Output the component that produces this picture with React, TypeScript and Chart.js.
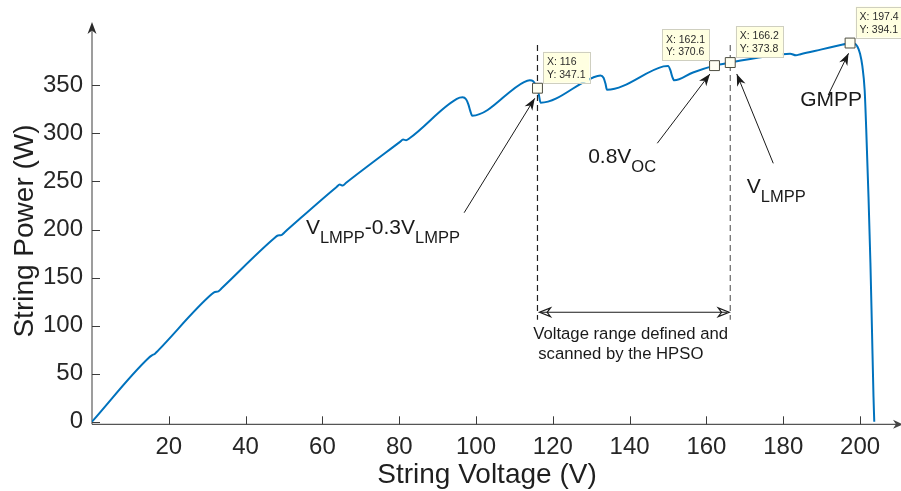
import React, { useEffect, useRef } from 'react';
import { Chart, registerables } from 'chart.js';

Chart.register(...registerables);

// P–V characteristic of the partially shaded string
const voltage = [
  0, 14.8, 15.6, 16.4, 17.2, 31.2, 32.0, 32.9, 33.7, 47.6, 48.4, 49.3, 50.1,
  63.7, 64.5, 65.3, 66.1, 80.2, 81.0, 81.8, 82.6, 95.0, 96.5, 97.4, 98.0, 98.5,
  99.0, 112.5, 114.0, 114.9, 115.5, 116.0, 116.4, 116.8, 130.5, 132.4, 133.2,
  133.7, 134.1, 148.8, 150.0, 150.6, 151.1, 151.6, 156.5, 162.1, 166.2, 175.5,
  181.8, 183.3, 184.5, 190.0, 195.5, 197.4, 198.5, 199.3, 200.0, 200.6, 201.2,
  201.6, 202.2, 202.7, 203.1, 203.5, 203.7,
];
const power = [
  0, 66.6, 69.0, 70.8, 74.0, 132.8, 135.0, 135.6, 138.6, 191.4, 193.8, 194.2, 197.0,
  244.3, 246.8, 245.8, 248.4, 291.2, 293.6, 293.0, 294.8, 336.0, 337.6, 335.6, 330.3, 323.5,
  318.5, 353.5, 355.3, 354.3, 350.5, 347.1, 339.5, 332.0, 358.3, 360.2, 358.0,
  352.0, 345.5, 369.8, 370.2, 366.0, 359.0, 355.3, 363.5, 370.6, 373.8, 380.0,
  383.0, 381.3, 382.5, 387.5, 392.5, 394.1, 393.6, 390.5, 383.0, 370.0, 345.0,
  305.0, 234.0, 165.0, 96.0, 26.0, 0,
];

// data-tip readouts
const tipVoltage = [116, 162.1, 166.2, 197.4];
const tipPower = [347.1, 370.6, 373.8, 394.1];
const tipSide = ['right', 'left', 'right', 'right'];

// voltage window searched by the HPSO
const rangeStart = 116;
const rangeEnd = 166.2;

const xTicks = [20, 40, 60, 80, 100, 120, 140, 160, 180, 200];
const yTicks = [0, 50, 100, 150, 200, 250, 300, 350];

const FONT = '"Liberation Sans", Arial, Helvetica, sans-serif';

// callouts: text pieces (sub = subscript), text anchor and arrow, in data units
const callouts = [
  { parts: [['V', false], ['LMPP', true], ['-0.3V', false], ['LMPP', true]], at: [55.7, 195.2], tail: [96.9, 217.5], head: [115.3, 336.6] },
  { parts: [['0.8V', false], ['OC', true]], at: [129.2, 269], tail: [147.2, 289.8], head: [160.9, 361.9] },
  { parts: [['V', false], ['LMPP', true]], at: [170.5, 237.7], tail: [177.4, 268.9], head: [167.9, 361.9] },
  { parts: [['GMPP', false]], at: [184.4, 328.6], tail: [191.7, 340], head: [197.0, 383.4] },
];

function concaveHead(ctx: CanvasRenderingContext2D, x1: number, y1: number, x2: number, y2: number, len: number, half: number, fill: boolean) {
  const a = Math.atan2(y2 - y1, x2 - x1);
  ctx.save();
  ctx.translate(x2, y2);
  ctx.rotate(a);
  ctx.beginPath();
  ctx.moveTo(0, 0);
  ctx.lineTo(-len, -half);
  ctx.lineTo(-len * 0.7, 0);
  ctx.lineTo(-len, half);
  ctx.closePath();
  if (fill) ctx.fill();
  else ctx.stroke();
  ctx.restore();
}

function line(ctx: CanvasRenderingContext2D, x1: number, y1: number, x2: number, y2: number) {
  ctx.beginPath();
  ctx.moveTo(x1, y1);
  ctx.lineTo(x2, y2);
  ctx.stroke();
}

const decorations = {
  id: 'decorations',
  beforeDatasetsDraw(chart: any) {
    const { ctx, chartArea, scales } = chart;
    const { left, right, top, bottom } = chartArea;
    const x = scales.x;
    const y = scales.y;
    ctx.save();

    // y axis with arrow
    ctx.strokeStyle = '#7c7c7c';
    ctx.fillStyle = '#2a2a2a';
    ctx.lineWidth = 1.5;
    line(ctx, left, bottom, left, top + 6);
    concaveHead(ctx, left, bottom, left, top, 12, 4.5, true);
    ctx.strokeStyle = '#3c3c3c';
    ctx.lineWidth = 1;
    yTicks.forEach((v) => {
      const p = Math.round(y.getPixelForValue(v)) + 0.5;
      line(ctx, left, p, left + 8, p);
    });

    // x axis with arrow
    ctx.strokeStyle = '#555555';
    ctx.lineWidth = 1.3;
    line(ctx, left, bottom, right - 2, bottom);
    ctx.fillStyle = '#444444';
    concaveHead(ctx, left, bottom, right + 3, bottom, 10, 4.5, true);
    ctx.strokeStyle = '#3c3c3c';
    ctx.lineWidth = 1;
    xTicks.forEach((v) => {
      const p = Math.round(x.getPixelForValue(v)) + 0.5;
      line(ctx, p, bottom, p, bottom - 8);
    });

    // window limits
    const yTop = y.getPixelForValue(392);
    const yBot = y.getPixelForValue(106);
    ctx.setLineDash([6, 4]);
    ctx.lineWidth = 1.2;
    ctx.strokeStyle = '#222222';
    const xs = x.getPixelForValue(rangeStart);
    const xe = x.getPixelForValue(rangeEnd);
    line(ctx, xs, yTop, xs, yBot);
    ctx.strokeStyle = '#666666';
    line(ctx, xe, yTop, xe, yBot);
    ctx.setLineDash([]);

    // double-headed arrow spanning the window
    const ya = y.getPixelForValue(113.9);
    ctx.strokeStyle = '#1a1a1a';
    ctx.lineWidth = 1.2;
    line(ctx, xs + 3, ya, xe - 3, ya);
    concaveHead(ctx, xe, ya, xs + 2, ya, 11, 4.3, false);
    concaveHead(ctx, xs, ya, xe - 1, ya, 11, 4.3, false);

    ctx.fillStyle = '#1a1a1a';
    ctx.font = `16.7px ${FONT}`;
    ctx.textBaseline = 'alphabetic';
    ctx.textAlign = 'left';
    ctx.fillText('Voltage range defined and', x.getPixelForValue(114.9), y.getPixelForValue(86.1));
    ctx.fillText('scanned by the HPSO', x.getPixelForValue(116.2), y.getPixelForValue(65.3));
    ctx.restore();
  },
  afterDatasetsDraw(chart: any) {
    const { ctx, scales } = chart;
    const x = scales.x;
    const y = scales.y;
    ctx.save();

    // data-tip boxes
    ctx.font = `10.5px ${FONT}`;
    ctx.textBaseline = 'alphabetic';
    ctx.textAlign = 'left';
    tipVoltage.forEach((v, i) => {
      const mx = x.getPixelForValue(v);
      const my = y.getPixelForValue(tipPower[i]);
      const l1 = `X: ${v}`;
      const l2 = `Y: ${tipPower[i]}`;
      const w = Math.max(ctx.measureText(l1).width, ctx.measureText(l2).width) + 8;
      const h = 31;
      const bx = tipSide[i] === 'right' ? mx + 5.5 : mx - 5.5 - w;
      const by = my - 5.5 - h;
      ctx.fillStyle = '#ffffe1';
      ctx.fillRect(bx, by, w, h);
      ctx.strokeStyle = '#cfcfc0';
      ctx.lineWidth = 1;
      ctx.strokeRect(Math.round(bx) + 0.5, Math.round(by) + 0.5, Math.round(w), h);
      ctx.fillStyle = '#2b2b2b';
      ctx.fillText(l1, bx + 4, by + 13.4);
      ctx.fillText(l2, bx + 4, by + 26);
    });

    // callouts
    ctx.strokeStyle = '#1a1a1a';
    ctx.fillStyle = '#1a1a1a';
    ctx.lineWidth = 1;
    callouts.forEach((c) => {
      const tx = x.getPixelForValue(c.tail[0]);
      const ty = y.getPixelForValue(c.tail[1]);
      const hx = x.getPixelForValue(c.head[0]);
      const hy = y.getPixelForValue(c.head[1]);
      line(ctx, tx, ty, hx, hy);
      concaveHead(ctx, tx, ty, hx, hy, 12, 4.5, true);

      let px = x.getPixelForValue(c.at[0]);
      const base = y.getPixelForValue(c.at[1]);
      c.parts.forEach(([t, sub]) => {
        ctx.font = sub ? `16.5px ${FONT}` : `21px ${FONT}`;
        ctx.fillText(t as string, px, sub ? base + 9 : base);
        px += ctx.measureText(t as string).width;
      });
    });
    ctx.restore();
  },
  afterDraw(chart: any) {
    const { ctx } = chart;
    ctx.save();
    ctx.fillStyle = '#1f1f1f';
    ctx.font = `28px ${FONT}`;
    ctx.textAlign = 'center';
    ctx.textBaseline = 'middle';
    ctx.fillText('String Voltage (V)', 487, 475);
    ctx.translate(25, 231);
    ctx.rotate(-Math.PI / 2);
    ctx.fillText('String Power (W)', 0, 0);
    ctx.restore();
  },
};

export default function App() {
  const canvasRef = useRef<HTMLCanvasElement>(null);

  useEffect(() => {
    const canvas = canvasRef.current;
    if (!canvas) return;
    const chart = new Chart(canvas, {
      type: 'line',
      data: {
        datasets: [
          {
            data: tipVoltage.map((v, i) => ({ x: v, y: tipPower[i] })),
            showLine: false,
            pointStyle: 'rect',
            pointRadius: 7,
            pointBackgroundColor: '#fffff2',
            pointBorderColor: '#4d4d40',
            pointBorderWidth: 1,
            order: 1,
          },
          {
            data: voltage.map((v, i) => ({ x: v, y: power[i] })),
            borderColor: '#0072BD',
            borderWidth: 2,
            pointRadius: 0,
            cubicInterpolationMode: 'monotone',
            fill: false,
            order: 2,
          },
        ],
      } as any,
      options: {
        responsive: false,
        animation: false,
        devicePixelRatio: 1,
        events: [],
        layout: { autoPadding: false, padding: { top: 22, right: 1, left: 0, bottom: 0 } },
        plugins: { legend: { display: false }, tooltip: { enabled: false } },
        scales: {
          x: {
            type: 'linear',
            min: 0,
            max: 210.4,
            grid: { display: false, drawTicks: false },
            border: { display: false },
            ticks: { padding: 9, color: '#262626', font: { family: FONT, size: 24 }, maxRotation: 0, autoSkip: false },
            afterBuildTicks: (s: any) => { s.ticks = xTicks.map((v) => ({ value: v })); },
            afterFit: (s: any) => {
              s.height = 66.7;
              s.paddingLeft = 0;
              s.paddingRight = 0;
            },
          },
          y: {
            type: 'linear',
            min: -2.7,
            max: 416,
            grid: { display: false, drawTicks: false },
            border: { display: false },
            ticks: { padding: 9, color: '#262626', font: { family: FONT, size: 24 }, autoSkip: false },
            afterBuildTicks: (s: any) => { s.ticks = yTicks.map((v) => ({ value: v })); },
            afterFit: (s: any) => {
              s.width = 92;
              s.paddingTop = 0;
              s.paddingBottom = 0;
            },
          },
        },
      } as any,
      plugins: [decorations],
    });
    return () => chart.destroy();
  }, []);

  return (
    <div style={{ position: 'absolute', left: 0, top: 0, width: 901, height: 491, background: '#ffffff' }}>
      <canvas ref={canvasRef} width={901} height={491} style={{ width: 901, height: 491, display: 'block' }} />
    </div>
  );
}
